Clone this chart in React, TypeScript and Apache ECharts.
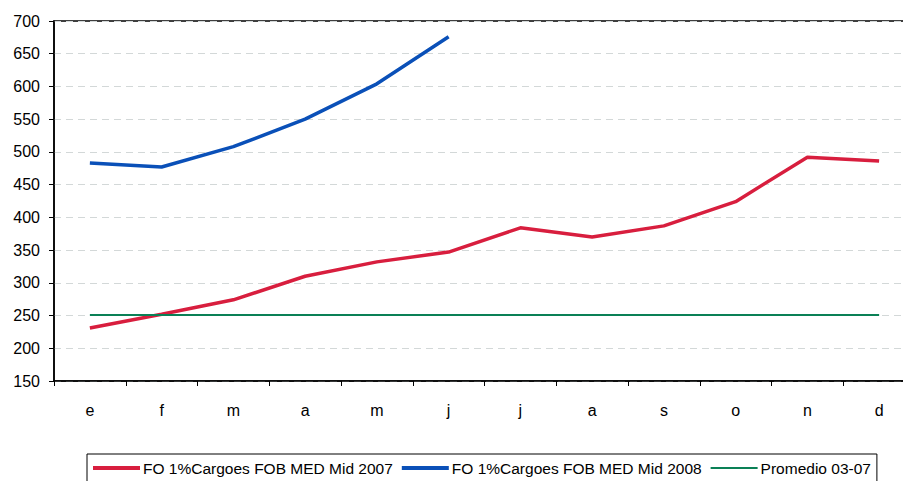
import React, { useEffect, useRef } from "react";
import * as echarts from "echarts";

const categories = ["e", "f", "m", "a", "m", "j", "j", "a", "s", "o", "n", "d"];
const fo2007 = [231, 252, 274, 310, 332, 347, 384, 370, 387, 424, 492, 486];
const fo2008 = [483, 477, 508, 550, 604, 676, null, null, null, null, null, null];
const promedio = [251, 251, 251, 251, 251, 251, 251, 251, 251, 251, 251, 251];
const seriesNames = [
  "FO 1%Cargoes FOB MED Mid 2007",
  "FO 1%Cargoes FOB MED Mid 2008",
  "Promedio 03-07",
];
const colors = ["#d81e3e", "#0a50b8", "#0a8056"];

export default function App() {
  const ref = useRef<HTMLDivElement>(null);
  useEffect(() => {
    const chart = echarts.init(ref.current!, null, { renderer: "svg" });
    const font = "Arial, 'Liberation Sans', sans-serif";
    chart.setOption({
      animation: false,
      backgroundColor: "#ffffff",
      textStyle: { fontFamily: font },
      grid: {
        left: 54,
        width: 861,
        top: 21,
        height: 360,
        show: true,
        borderColor: "#000",
        borderWidth: 1.5,
        containLabel: false,
        outerBoundsMode: "none",
      },
      legend: {
        top: 454,
        left: 87,
        borderColor: "#000",
        borderWidth: 1,
        padding: [6, 6, 12, 6],
        itemGap: 9,
        itemWidth: 47,
        itemHeight: 4,
        textStyle: { fontFamily: font, fontSize: 15.5, color: "#000", padding: [0, 0, 0, -2] },
        data: [
          { name: seriesNames[0], icon: "rect" },
          { name: seriesNames[1], icon: "rect" },
          { name: seriesNames[2], icon: "path://M0,0H47V2H0Z" },
        ],
      },
      xAxis: {
        type: "category",
        data: categories,
        boundaryGap: true,
        axisLine: { lineStyle: { color: "#000", width: 1.5 } },
        axisTick: { show: true, length: 5, lineStyle: { color: "#000" } },
        axisLabel: { color: "#000", fontSize: 16, margin: 21, fontFamily: font },
      },
      yAxis: {
        type: "value",
        min: 150,
        max: 700,
        interval: 50,
        axisLine: { show: true, lineStyle: { color: "#000", width: 1.5 } },
        axisTick: { show: true, length: 5, lineStyle: { color: "#000" } },
        axisLabel: { color: "#000", fontSize: 16, margin: 14, fontFamily: font },
        splitLine: {
          show: true,
          lineStyle: { color: "#d3d8d8", type: [7, 5], width: 1 },
        },
      },
      series: [
        {
          name: seriesNames[0],
          type: "line",
          data: fo2007,
          symbol: "none",
          lineStyle: { color: colors[0], width: 3.5 },
          itemStyle: { color: colors[0] },
        },
        {
          name: seriesNames[1],
          type: "line",
          data: fo2008,
          symbol: "none",
          lineStyle: { color: colors[1], width: 3.5 },
          itemStyle: { color: colors[1] },
        },
        {
          name: seriesNames[2],
          type: "line",
          data: promedio,
          symbol: "none",
          lineStyle: { color: colors[2], width: 2 },
          itemStyle: { color: colors[2] },
        },
      ],
    });
    return () => chart.dispose();
  }, []);
  return (
    <div
      ref={ref}
      style={{ position: "fixed", left: 0, top: 0, width: 903, height: 481 }}
    />
  );
}
